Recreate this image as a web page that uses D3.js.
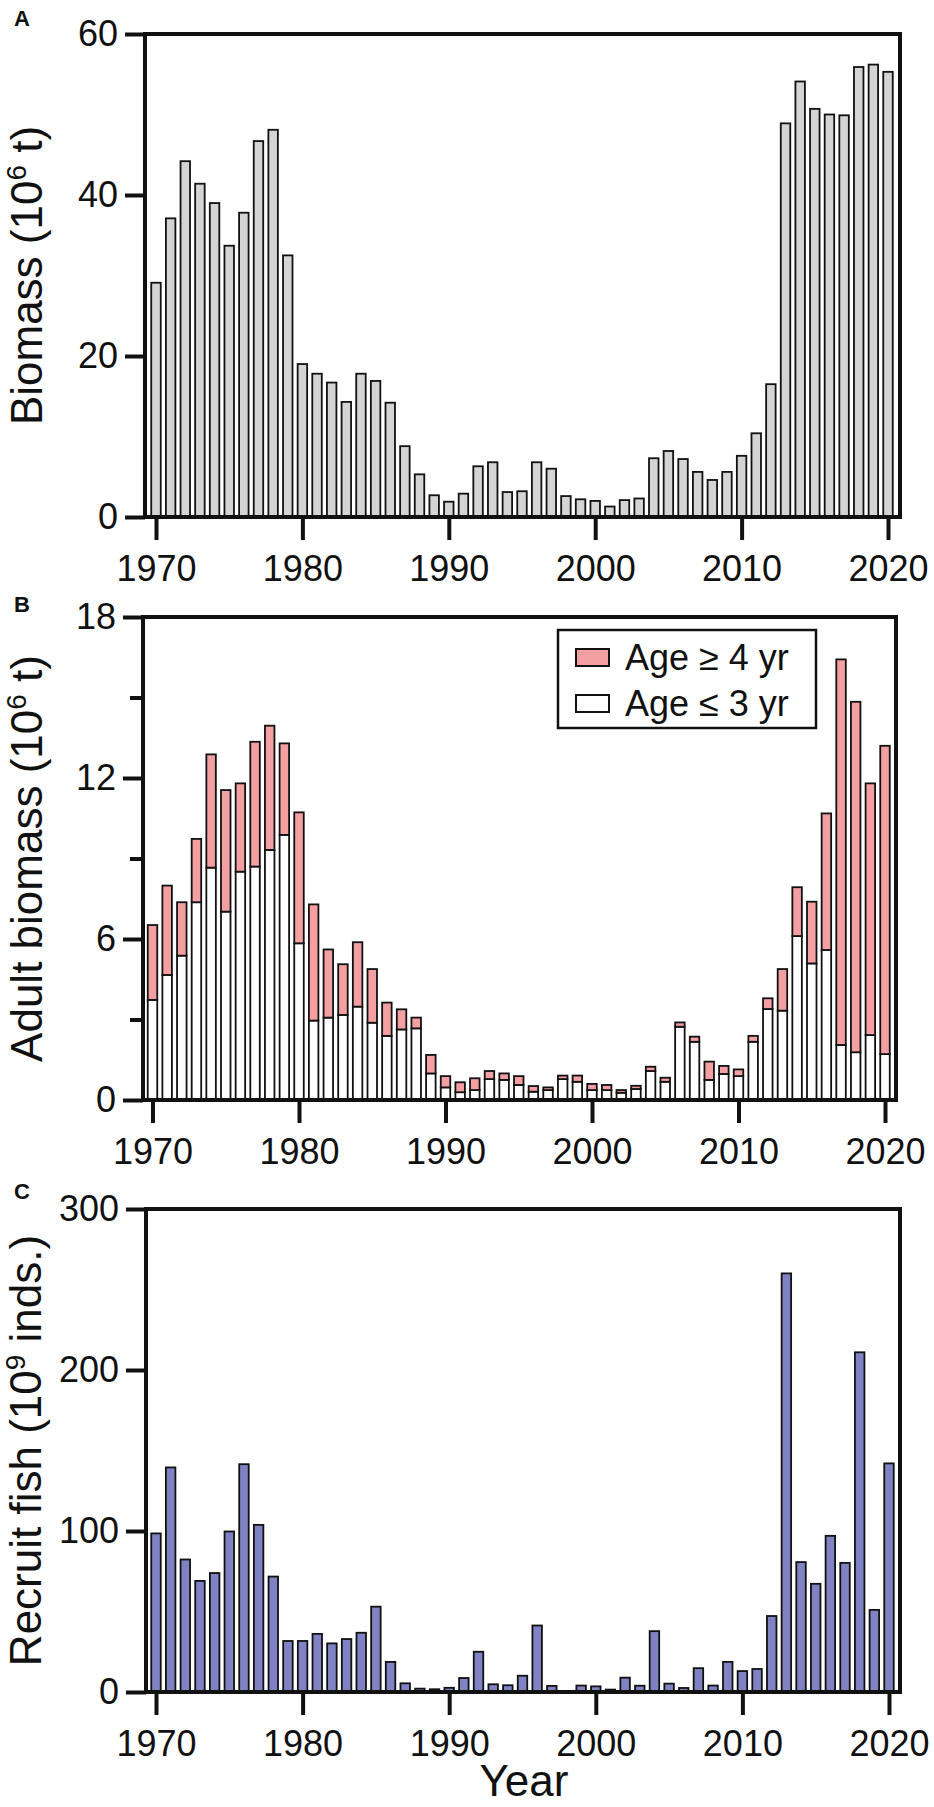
<!DOCTYPE html>
<html>
<head>
<meta charset="utf-8">
<script src="https://cdn.jsdelivr.net/npm/d3@7"></script>
<style>
  body { margin: 0; background: #fff; }
  svg { display: block; font-family: "Liberation Sans", Arial, sans-serif; }
</style>
</head>
<body>
<div id="chart"></div>
<script>
// years on the x axis
const years = [1970,1971,1972,1973,1974,1975,1976,1977,1978,1979,
  1980,1981,1982,1983,1984,1985,1986,1987,1988,1989,
  1990,1991,1992,1993,1994,1995,1996,1997,1998,1999,
  2000,2001,2002,2003,2004,2005,2006,2007,2008,2009,
  2010,2011,2012,2013,2014,2015,2016,2017,2018,2019,2020];
const yearTicks = [1970, 1980, 1990, 2000, 2010, 2020];

// A: biomass (10^6 t)
const biomass = [29.1,37.1,44.2,41.4,39.0,33.7,37.8,46.7,48.1,32.5,
  19.0,17.8,16.7,14.3,17.8,16.9,14.2,8.8,5.3,2.7,
  1.9,2.9,6.3,6.8,3.1,3.2,6.8,6.0,2.6,2.2,
  2.0,1.3,2.1,2.3,7.3,8.2,7.2,5.6,4.6,5.6,
  7.6,10.4,16.5,48.9,54.1,50.7,50.0,49.9,55.9,56.2,55.3];
const biomassTicks = [0, 20, 40, 60];

// B: adult biomass (10^6 t), split by age
const ageYoung = [3.73,4.66,5.38,7.37,8.66,7.02,8.51,8.70,9.32,9.88,
  5.84,2.96,3.07,3.17,3.48,2.88,2.39,2.63,2.67,0.99,
  0.47,0.29,0.37,0.78,0.75,0.56,0.31,0.37,0.78,0.68,
  0.37,0.37,0.27,0.41,1.08,0.68,2.73,2.17,0.75,0.97,
  0.89,2.17,3.39,3.33,6.11,5.09,5.59,2.05,1.78,2.42,1.71];
const ageOld = [2.79,3.33,1.99,2.36,4.22,4.53,3.29,4.65,4.63,3.41,
  4.88,4.33,2.54,1.89,2.40,2.00,1.24,0.75,0.40,0.69,
  0.42,0.37,0.44,0.30,0.24,0.33,0.21,0.10,0.13,0.23,
  0.23,0.19,0.10,0.12,0.16,0.15,0.16,0.19,0.68,0.30,
  0.25,0.22,0.40,1.55,1.82,2.30,5.09,14.37,13.06,9.38,11.49];
const adultTicks = [0, 6, 12, 18];
const adultMinor = [3, 9, 15];
const legendLabels = ["Age \u2265 4 yr", "Age \u2264 3 yr"];

// C: recruit fish (10^9 inds.)
const recruits = [98.5,139.5,82.3,69.0,73.9,99.7,141.5,103.8,71.7,31.7,
  31.7,36.1,30.2,32.9,36.8,53.0,18.7,5.4,2.1,1.7,
  2.6,8.7,25.0,4.8,4.2,10.1,41.3,3.8,0.4,4.0,
  3.5,1.5,8.9,3.9,37.8,5.2,2.5,14.8,4.0,18.7,
  13.0,14.3,47.2,260,80.7,67.2,97.0,80.2,211,51.0,142];
const recruitTicks = [0, 100, 200, 300];

const W = 934, H = 1807;
const svg = d3.select("#chart").append("svg")
  .attr("width", W).attr("height", H)
  .attr("viewBox", `0 0 ${W} ${H}`);
svg.append("rect").attr("width", W).attr("height", H).attr("fill", "#fff");

const barW = 9.5;

// frame, axes and titles for one panel; returns the scales
function panel(p) {
  const x = d3.scaleLinear().domain([1970, 2020]).range([p.x0, p.x1]);
  const y = d3.scaleLinear().domain(p.domain).range([p.bottom, p.top]);
  const g = svg.append("g");

  // y axis
  g.append("g")
    .attr("transform", `translate(${p.left},0)`)
    .call(d3.axisLeft(y).tickValues(p.ticks).tickSize(20).tickSizeOuter(0).tickPadding(7));
  if (p.minor) {
    g.append("g")
      .attr("transform", `translate(${p.left},0)`)
      .call(d3.axisLeft(y).tickValues(p.minor).tickSize(13).tickSizeOuter(0).tickFormat(""));
  }
  // x axis
  g.append("g")
    .attr("transform", `translate(0,${p.bottom})`)
    .call(d3.axisBottom(x).tickValues(yearTicks).tickSize(23).tickSizeOuter(0)
      .tickPadding(15).tickFormat(d3.format("d")));

  g.selectAll(".domain").remove();
  g.selectAll(".tick line").attr("stroke", "#111").attr("stroke-width", 4);
  g.selectAll(".tick text").attr("font-size", 36).attr("fill", "#111")
    .attr("font-family", "Liberation Sans, Arial, sans-serif");

  // axis title
  const t = g.append("text")
    .attr("transform", `translate(${p.titleX},${(p.top + p.bottom) / 2}) rotate(-90)`)
    .attr("text-anchor", "middle")
    .attr("font-size", 44)
    .attr("fill", "#111");
  t.append("tspan").text(p.title[0]);
  t.append("tspan").attr("font-size", 28).attr("dy", -16).text(p.title[1]);
  t.append("tspan").attr("dy", 16).text(p.title[2]);

  // panel letter
  g.append("text").attr("x", 14).attr("y", p.letterY)
    .attr("font-size", 22).attr("font-weight", "bold").attr("fill", "#111")
    .text(p.letter);

  return { x, y, g, p };
}

function frame(s) {
  const p = s.p;
  s.g.append("rect")
    .attr("x", p.left).attr("y", p.top)
    .attr("width", p.right - p.left).attr("height", p.bottom - p.top)
    .attr("fill", "none").attr("stroke", "#111").attr("stroke-width", 4);
}

// ---- A
const A = panel({top: 34, bottom: 517, left: 145, right: 900, x0: 156, x1: 888,
  domain: [0, 60], ticks: biomassTicks, titleX: 42, letter: "A", letterY: 26,
  title: ["Biomass (10", "6", " t)"]});
A.g.selectAll("rect.bar").data(years).enter().append("rect")
  .attr("class", "bar")
  .attr("x", (d) => A.x(d) - barW / 2)
  .attr("width", barW)
  .attr("y", (d, i) => A.y(biomass[i]))
  .attr("height", (d, i) => A.y(0) - A.y(biomass[i]))
  .attr("fill", "#d4d4d4").attr("stroke", "#111").attr("stroke-width", 1.8);
frame(A);

// ---- B
const B = panel({top: 617, bottom: 1100, left: 143, right: 896, x0: 152.5, x1: 885,
  domain: [0, 18], ticks: adultTicks, minor: adultMinor, titleX: 42, letter: "B", letterY: 612,
  title: ["Adult biomass (10", "6", " t)"]});
const stackRows = years.map((yr, i) => ({year: yr, young: ageYoung[i], old: ageOld[i]}));
const stacked = d3.stack().keys(["young", "old"])(stackRows);
const fills = {young: "#ffffff", old: "#f4a0a3"};
B.g.selectAll("g.layer").data(stacked).enter().append("g")
  .attr("class", "layer")
  .attr("fill", (d) => fills[d.key])
  .selectAll("rect").data((d) => d).enter().append("rect")
  .attr("x", (d) => B.x(d.data.year) - barW / 2)
  .attr("width", barW)
  .attr("y", (d) => B.y(d[1]))
  .attr("height", (d) => B.y(d[0]) - B.y(d[1]))
  .attr("stroke", "#111").attr("stroke-width", 1.8);
frame(B);

// legend
const lg = B.g.append("g");
lg.append("rect").attr("x", 558).attr("y", 630).attr("width", 258).attr("height", 98)
  .attr("fill", "#fff").attr("stroke", "#111").attr("stroke-width", 2.5);
legendLabels.forEach((lab, i) => {
  const yy = 649 + i * 46;
  lg.append("rect").attr("x", 576).attr("y", yy).attr("width", 33).attr("height", 17)
    .attr("fill", i === 0 ? fills.old : fills.young)
    .attr("stroke", "#111").attr("stroke-width", 2);
  lg.append("text").attr("x", 625).attr("y", yy + 21)
    .attr("font-size", 36).attr("fill", "#111").text(lab);
});

// ---- C
const C = panel({top: 1209, bottom: 1692, left: 146, right: 900, x0: 156, x1: 889,
  domain: [0, 300], ticks: recruitTicks, titleX: 41, letter: "C", letterY: 1199,
  title: ["Recruit fish (10", "9", " inds.)"]});
C.g.selectAll("rect.bar").data(years).enter().append("rect")
  .attr("class", "bar")
  .attr("x", (d) => C.x(d) - barW / 2)
  .attr("width", barW)
  .attr("y", (d, i) => C.y(recruits[i]))
  .attr("height", (d, i) => C.y(0) - C.y(recruits[i]))
  .attr("fill", "#7f83c4").attr("stroke", "#111").attr("stroke-width", 1.8);
frame(C);

svg.append("text").attr("x", 524).attr("y", 1796)
  .attr("text-anchor", "middle").attr("font-size", 44).attr("fill", "#111")
  .text("Year");
</script>
</body>
</html>
